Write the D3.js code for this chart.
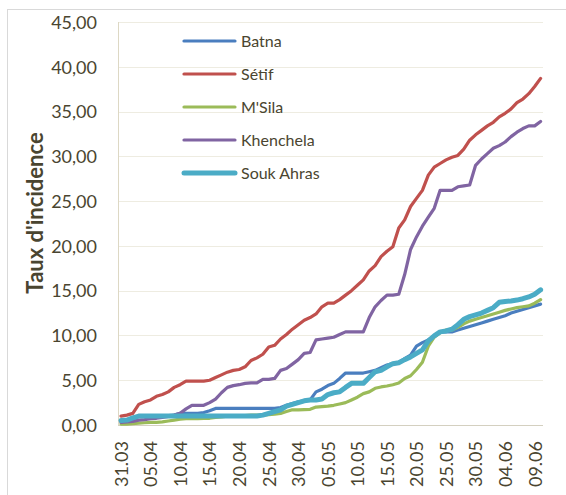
<!DOCTYPE html>
<html>
<head>
<meta charset="utf-8">
<script src="https://cdn.jsdelivr.net/npm/d3@7"></script>
<style>
  html, body { margin: 0; padding: 0; background: #fff; }
  svg { display: block; }
  text { font-family: Lato, "Open Sans", sans-serif; fill: #4a4530; }
</style>
</head>
<body>
<svg id="chart" width="566" height="495"></svg>
<script>
// ---- data ----
const startDate = "2020-03-31";
const nDays = 72; // 31.03 .. 10.06
const tickLabels = ["31.03","05.04","10.04","15.04","20.04","25.04","30.04","05.05","10.05","15.05","20.05","25.05","30.05","04.06","09.06"];
const yTicks = [0,5,10,15,20,25,30,35,40,45];
const seriesNames = ["Batna","Sétif","M'Sila","Khenchela","Souk Ahras"];

const batna = [0.5,0.5,0.7,1.0,1.0,1.0,1.0,1.0,1.05,1.1,1.3,1.3,1.3,1.3,1.4,1.6,1.85,1.85,1.85,1.85,
  1.85,1.85,1.85,1.85,1.85,1.85,1.85,1.95,2.2,2.4,2.6,2.7,2.8,3.7,4.0,4.4,4.65,5.2,5.8,5.8,
  5.8,5.8,5.95,6.1,6.4,6.7,6.85,7.0,7.4,7.8,8.8,9.2,9.5,10.0,10.4,10.4,10.4,10.6,10.8,11.0,
  11.2,11.4,11.6,11.8,12.0,12.2,12.5,12.7,12.9,13.1,13.3,13.5];
const setif = [1.0,1.1,1.3,2.3,2.6,2.8,3.2,3.4,3.7,4.2,4.5,4.9,4.9,4.9,4.9,5.0,5.3,5.6,5.9,6.1,
  6.2,6.5,7.2,7.5,7.9,8.7,8.9,9.6,10.1,10.7,11.2,11.7,12.0,12.4,13.2,13.6,13.6,14.0,14.5,15.0,
  15.6,16.2,17.2,17.8,18.8,19.4,19.9,22.0,22.9,24.4,25.3,26.2,27.9,28.8,29.2,29.6,29.9,30.1,30.8,31.8,
  32.4,32.9,33.4,33.8,34.4,34.8,35.3,36.0,36.4,37.0,37.8,38.7];
const msila = [0.1,0.1,0.15,0.2,0.25,0.3,0.3,0.35,0.45,0.55,0.65,0.7,0.7,0.7,0.75,0.75,0.85,0.9,1.0,1.0,
  1.0,1.05,1.1,1.1,1.1,1.15,1.2,1.3,1.5,1.7,1.7,1.72,1.75,2.0,2.05,2.1,2.2,2.35,2.5,2.8,
  3.1,3.5,3.7,4.1,4.25,4.35,4.5,4.7,5.2,5.5,6.2,7.0,8.8,9.8,10.3,10.6,10.6,10.9,11.3,11.6,
  11.8,12.0,12.2,12.4,12.6,12.8,12.95,13.1,13.2,13.3,13.6,14.0];
const khenchela = [0.3,0.35,0.4,0.55,0.6,0.7,0.75,0.85,0.95,1.1,1.3,1.8,2.2,2.2,2.2,2.5,2.9,3.6,4.2,4.4,
  4.5,4.65,4.7,4.7,5.1,5.1,5.2,6.1,6.3,6.8,7.3,8.0,8.1,9.5,9.6,9.7,9.8,10.1,10.4,10.4,
  10.4,10.4,12.0,13.2,13.9,14.5,14.5,14.6,16.8,19.6,21.0,22.2,23.2,24.2,26.2,26.2,26.2,26.6,26.7,26.8,
  29.0,29.7,30.3,30.9,31.2,31.6,32.2,32.7,33.1,33.4,33.4,33.9];
const soukAhras = [0.5,0.55,0.8,1.0,1.0,1.0,1.0,1.0,1.0,1.0,1.0,1.0,1.0,1.0,1.0,1.0,1.0,1.0,1.0,1.0,
  1.0,1.0,1.0,1.0,1.1,1.3,1.5,1.7,2.1,2.3,2.5,2.7,2.8,2.8,2.9,3.4,3.6,3.7,4.2,4.65,
  4.65,4.65,5.3,5.95,6.1,6.5,6.85,6.95,7.3,7.6,8.0,8.4,9.4,9.95,10.4,10.5,10.7,11.2,11.8,12.1,
  12.3,12.5,12.8,13.1,13.7,13.8,13.85,13.95,14.1,14.3,14.6,15.1];

const seriesValues = [batna, setif, msila, khenchela, soukAhras];
const seriesColors = ["#4a7ebf","#c0504d","#9bbb59","#8064a2","#4bacc6"];
const seriesWidths = [3.2, 3.2, 3.2, 3.2, 5];

// ---- build ----
const fmtDay = d3.timeFormat("%d.%m");
const day0 = d3.timeParse("%Y-%m-%d")(startDate);
const days = d3.timeDay.range(day0, d3.timeDay.offset(day0, nDays));
const cats = days.map(fmtDay);

const svg = d3.select("#chart");
const plot = {left: 118, right: 543, top: 22, bottom: 425};

// outer border
svg.append("rect").attr("x", 7.5).attr("y", 9.5).attr("width", 600).attr("height", 600)
  .attr("fill", "none").attr("stroke", "#d9d9d9").attr("stroke-width", 1);

const x = d3.scalePoint().domain(cats).range([121, 540.6]);
const y = d3.scaleLinear().domain([0, 45]).range([plot.bottom, plot.top]);

// gridlines
svg.append("g").selectAll("line").data(yTicks.filter(d => d > 0)).join("line")
  .attr("x1", plot.left).attr("x2", plot.right)
  .attr("y1", d => Math.round(y(d)) + 0.5).attr("y2", d => Math.round(y(d)) + 0.5)
  .attr("stroke", "#eeece1").attr("stroke-width", 1.2);

// y axis
const yAxis = d3.axisLeft(y).tickValues(yTicks).tickSize(0).tickPadding(0)
  .tickFormat(d => d3.format(".2f")(d).replace(".", ","));
const gy = svg.append("g").attr("transform", `translate(97,0)`).call(yAxis);
gy.select(".domain").remove();
gy.selectAll("text").attr("font-size", 18).attr("fill", "#4a4530").attr("dy", "0.35em")
  .style("font-family", "Lato, 'Open Sans', sans-serif");

// axis lines
svg.append("line").attr("x1", plot.left + 0.5).attr("x2", plot.left + 0.5)
  .attr("y1", plot.top).attr("y2", plot.bottom).attr("stroke", "#ddd8c4").attr("stroke-width", 1);
svg.append("line").attr("x1", plot.left).attr("x2", plot.right)
  .attr("y1", plot.bottom + 0.5).attr("y2", plot.bottom + 0.5).attr("stroke", "#d4d0c0").attr("stroke-width", 1.2);

// x axis labels
const xAxis = d3.axisBottom(x).tickValues(tickLabels).tickSize(0).tickPadding(0);
const gx = svg.append("g").attr("transform", `translate(0,441)`).call(xAxis);
gx.select(".domain").remove();
gx.selectAll("text")
  .attr("font-size", 18).attr("fill", "#4a4530")
  .style("font-family", "Lato, 'Open Sans', sans-serif")
  .attr("text-anchor", "end").attr("transform", "rotate(-90)")
  .attr("x", 0).attr("y", 0).attr("dy", "0.35em");

// y axis title
svg.append("text").attr("transform", "translate(35,213) rotate(-90)")
  .attr("text-anchor", "middle").attr("dy", "0.35em")
  .attr("font-size", 22).attr("font-weight", "bold").text("Taux d'incidence");

// lines
const line = d3.line().x((d, i) => x(cats[i])).y(d => y(d));
seriesValues.forEach((vals, k) => {
  svg.append("path").datum(vals).attr("d", line)
    .attr("fill", "none").attr("stroke", seriesColors[k]).attr("stroke-width", seriesWidths[k])
    .attr("stroke-linejoin", "round").attr("stroke-linecap", "round");
});

// legend
const lg = svg.append("g");
seriesNames.forEach((name, k) => {
  const ly = 41 + k * 33;
  lg.append("line").attr("x1", 184).attr("x2", 235).attr("y1", ly).attr("y2", ly)
    .attr("stroke", seriesColors[k]).attr("stroke-width", seriesWidths[k]).attr("stroke-linecap", "round");
  lg.append("text").attr("x", 241).attr("y", ly).attr("dy", "0.35em")
    .attr("font-size", 16).text(name);
});
</script>
</body>
</html>
